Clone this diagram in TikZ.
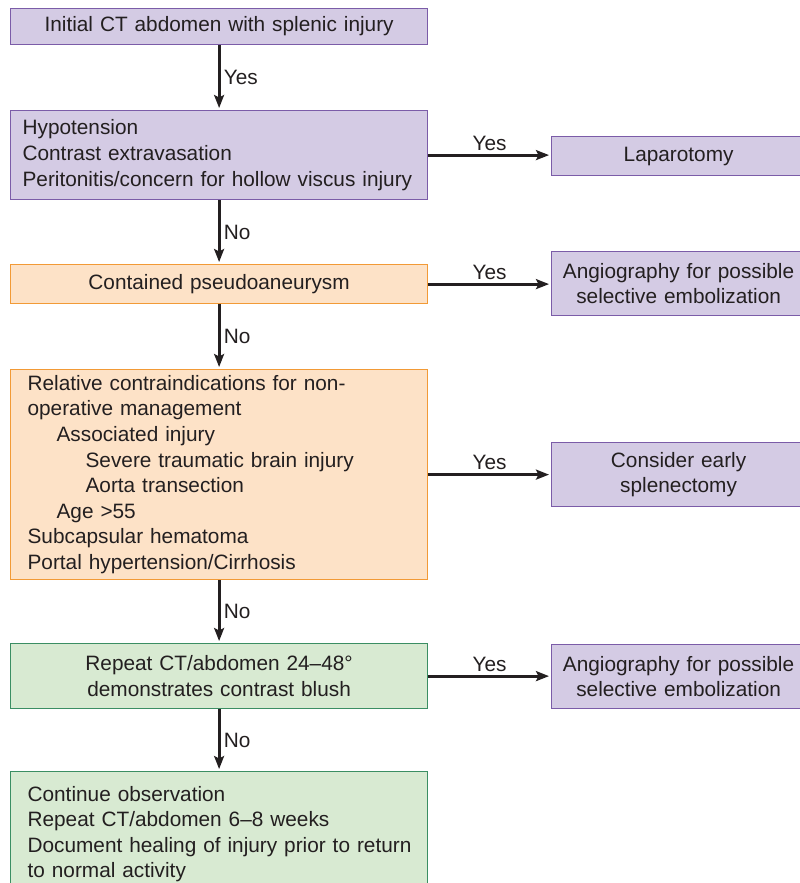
\documentclass[tikz,border=0pt]{standalone}
\usepackage{fontspec}
\setmainfont{Liberation Sans}
\usetikzlibrary{arrows.meta}
\definecolor{ink}{HTML}{231F20}
\definecolor{lilac}{HTML}{D4CBE4}
\definecolor{lilacline}{HTML}{7B5CA8}
\definecolor{peach}{HTML}{FDE2C7}
\definecolor{peachline}{HTML}{F29A36}
\definecolor{mint}{HTML}{D8EAD2}
\definecolor{mintline}{HTML}{3B8E63}
\begin{document}
\begin{tikzpicture}[x=1pt,y=-1pt,
    every node/.style={font=\fontsize{20.8}{25.6}\selectfont,text=ink},
    box/.style={line width=1.2pt,anchor=north west,inner xsep=17pt,inner ysep=0pt,text width=383pt},
    sidebox/.style={box,inner xsep=6pt,text width=242pt,align=center},
    lilacbox/.style={fill=lilac,draw=lilacline},
    peachbox/.style={fill=peach,draw=peachline},
    mintbox/.style={fill=mint,draw=mintline},
    arr/.style={draw=ink,line width=2.8pt,-{Stealth[length=13pt,width=10pt,inset=2.5pt]},shorten >=2pt}]
\useasboundingbox (0,0) rectangle (800,883);
\clip (0,0) rectangle (800,883);
% left column
\node[box,lilacbox,align=center,minimum height=36pt] (init) at (10,8) {Initial CT abdomen with splenic injury};
\node[box,lilacbox,align=left,inner xsep=12pt,text width=393pt,minimum height=89pt] (hypo) at (10,110) {Hypotension\\Contrast extravasation\\\mbox{Peritonitis/concern for hollow viscus injury}};
\node[box,peachbox,align=center,minimum height=39pt] (pseudo) at (10,264) {Contained pseudoaneurysm};
\node[box,peachbox,align=left,minimum height=210pt] (contra) at (10,369) {Relative contraindications for non-\\operative management\\
  \hspace*{29pt}Associated injury\\
  \hspace*{58pt}Severe traumatic brain injury\\
  \hspace*{58pt}Aorta transection\\
  \hspace*{29pt}Age >55\\
  Subcapsular hematoma\\Portal hypertension/Cirrhosis};
\node[box,mintbox,align=center,minimum height=65pt] (repeat) at (10,643) {Repeat CT/abdomen 24--48°\\demonstrates contrast blush};
\node[box,mintbox,align=left,minimum height=125pt] (observe) at (10,771) {Continue observation\\Repeat CT/abdomen 6--8 weeks\\\mbox{Document healing of injury prior to return}\\to normal activity};
% right column
\node[sidebox,lilacbox,minimum height=39pt] (lapar) at (551,136) {Laparotomy};
\node[sidebox,lilacbox,minimum height=64pt] (angioA) at (551,251) {Angiography for possible\\selective embolization};
\node[sidebox,lilacbox,minimum height=64pt] (splen) at (551,442) {Consider early\\splenectomy};
\node[sidebox,lilacbox,minimum height=64pt] (angioB) at (551,644) {Angiography for possible\\selective embolization};
% vertical connectors
\draw[arr] (init) -- (hypo) node[midway,right] {Yes};
\draw[arr] (hypo) -- (pseudo) node[midway,right] {No};
\draw[arr] (pseudo) -- (contra) node[midway,right] {No};
\draw[arr] (contra) -- (repeat) node[midway,right] {No};
\draw[arr] (repeat) -- (observe) node[midway,right] {No};
% horizontal connectors
\draw[arr] (hypo.east) -- (hypo.east -| lapar.west) node[midway,above] {Yes};
\draw[arr] (pseudo.east) -- (pseudo.east -| angioA.west) node[midway,above] {Yes};
\draw[arr] (contra.east) -- (contra.east -| splen.west) node[midway,above] {Yes};
\draw[arr] (repeat.east) -- (repeat.east -| angioB.west) node[midway,above] {Yes};
\end{tikzpicture}
\end{document}
